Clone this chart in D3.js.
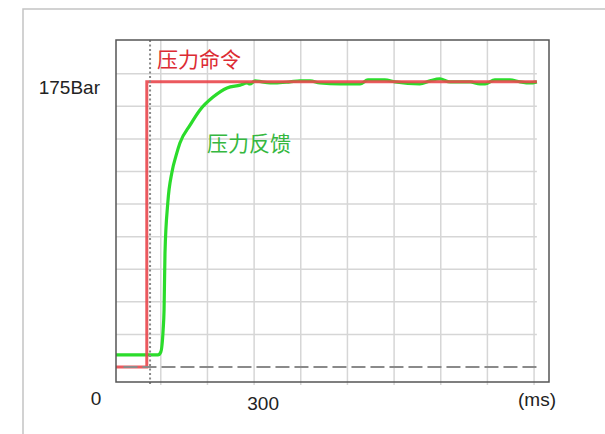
<!DOCTYPE html>
<html>
<head>
<meta charset="utf-8">
<script src="https://cdn.jsdelivr.net/npm/d3@7"></script>
<style>
  body { margin: 0; background: #fff; }
  text { font-family: "Liberation Sans", Arial, sans-serif; }
  .cjk { font-family: "Noto Sans CJK SC", sans-serif; }
</style>
</head>
<body>
<svg id="chart" width="605" height="434"></svg>
<script>
// command (red) - step at ~70 ms
var cmdTime = [4, 70, 70, 906];
var cmdBar = [0, 0, 175, 175];

// feedback (green)
var fbTime = [4, 94, 100, 105, 107, 109, 115, 124, 133, 141, 163, 184, 212, 242, 270, 285, 291, 302, 317, 345, 377, 398, 420, 441, 484, 527, 544, 580, 602, 655, 677, 698, 720, 763, 784, 795, 816, 848, 870, 891, 906];
var fbBar = [7.4, 7.4, 9.2, 22.7, 35, 70, 100.7, 119.7, 130, 137.5, 148.6, 157.8, 165.7, 171.3, 173, 174.3, 173.7, 175.6, 175, 174.3, 175, 175.6, 175.6, 174.3, 173.7, 173.7, 176.2, 176.2, 175, 173.7, 175.6, 176.8, 175, 175, 173.7, 173.7, 176.2, 176.2, 175, 174.3, 175];

var gridTimes = [100, 200, 300, 400, 500, 600, 700, 800, 900];
var gridBars = [20, 40, 60, 80, 100, 120, 140, 160, 180];
var markerTime = 77;
var xLabels = [{t: 300, text: "300"}];

var svg = d3.select("#chart");

var x = d3.scaleLinear().domain([4, 932]).range([116, 549]);
var y = d3.scaleLinear().domain([-9.2, 200.7]).range([382, 40]);
var dataEnd = 906;

// outer frame
svg.append("rect")
  .attr("x", 23).attr("y", 9).attr("width", 620).attr("height", 440)
  .attr("fill", "none").attr("stroke", "#c4c4c4").attr("stroke-width", 1.5);

// grid
svg.selectAll(".vgrid").data(gridTimes).enter().append("line")
  .attr("class", "vgrid")
  .attr("x1", function(d) { return x(d); }).attr("x2", function(d) { return x(d); })
  .attr("y1", y.range()[1]).attr("y2", y.range()[0] + 3)
  .attr("stroke", "#d6d6d6").attr("stroke-width", 1.5);

svg.selectAll(".hgrid").data(gridBars).enter().append("line")
  .attr("class", "hgrid")
  .attr("x1", x.range()[0]).attr("x2", x(dataEnd))
  .attr("y1", function(d) { return y(d); }).attr("y2", function(d) { return y(d); })
  .attr("stroke", "#d6d6d6").attr("stroke-width", 1.5);

var line = d3.line()
  .x(function(d) { return x(d[0]); })
  .y(function(d) { return y(d[1]); });

var fbData = d3.zip(fbTime, fbBar);
var cmdData = d3.zip(cmdTime, cmdBar);

svg.append("path")
  .datum(fbData)
  .attr("d", line.curve(d3.curveMonotoneX))
  .attr("fill", "none").attr("stroke", "#2bdc2b").attr("stroke-width", 3.2);

svg.append("path")
  .datum(cmdData)
  .attr("d", line.curve(d3.curveLinear))
  .attr("fill", "none").attr("stroke", "#e9474c").attr("stroke-width", 3)
  .attr("stroke-opacity", 0.9);

// zero dashed line (over the red zero segment)
svg.append("line")
  .attr("x1", x(20)).attr("x2", x(dataEnd))
  .attr("y1", y(0)).attr("y2", y(0))
  .attr("stroke", "#8a8a8a").attr("stroke-width", 2)
  .attr("stroke-dasharray", "14,5");

// dotted marker at step
svg.append("line")
  .attr("x1", x(markerTime)).attr("x2", x(markerTime))
  .attr("y1", y.range()[1]).attr("y2", y.range()[0] + 4)
  .attr("stroke", "#888").attr("stroke-width", 2)
  .attr("stroke-dasharray", "2,2.5");

// plot border
svg.append("rect")
  .attr("x", x.range()[0]).attr("y", y.range()[1])
  .attr("width", x.range()[1] - x.range()[0])
  .attr("height", y.range()[0] - y.range()[1])
  .attr("fill", "none").attr("stroke", "#555").attr("stroke-width", 1.5);

// labels
svg.append("text").attr("x", 100).attr("y", 94)
  .attr("text-anchor", "end").attr("font-size", 19).attr("fill", "#222")
  .text("175Bar");

svg.append("text").attr("x", 96).attr("y", 405)
  .attr("text-anchor", "middle").attr("font-size", 19).attr("fill", "#222")
  .text("0");

svg.selectAll(".xlab").data(xLabels).enter().append("text")
  .attr("class", "xlab")
  .attr("x", function(d) { return x(d.t) + 9; }).attr("y", 410)
  .attr("text-anchor", "middle").attr("font-size", 19).attr("fill", "#222")
  .text(function(d) { return d.text; });

svg.append("text").attr("x", 537).attr("y", 406)
  .attr("text-anchor", "middle").attr("font-size", 19).attr("fill", "#222")
  .text("(ms)");

svg.append("text").attr("class", "cjk").attr("x", 157).attr("y", 67)
  .attr("font-size", 21).attr("fill", "#dc2b33")
  .text("压力命令");

svg.append("text").attr("class", "cjk").attr("x", 207).attr("y", 151)
  .attr("font-size", 21).attr("fill", "#35b840")
  .text("压力反馈");
</script>
</body>
</html>
